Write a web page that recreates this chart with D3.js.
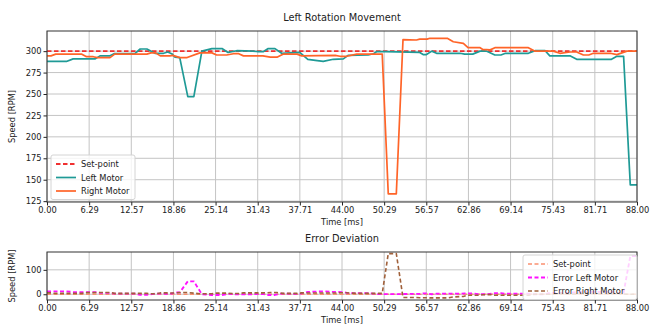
<!DOCTYPE html>
<html>
<head>
<meta charset="utf-8">
<script src="https://cdn.jsdelivr.net/npm/d3@7"></script>
<style>
  body { margin: 0; background: #fff; }
  svg { display: block; font-family: "DejaVu Sans", sans-serif; }
</style>
</head>
<body>
<div id="chart"></div>
<script>
// values (time in ms, speed in RPM)
const setPoint = 300;
const timeMax = 88;

const leftTime = [0, 2.9, 3.9, 7.2, 7.9, 9.4, 10.0, 13.1, 13.9, 14.9, 16.1, 17.4, 18.0, 18.6, 19.1, 19.8,
  21.0, 21.9, 23.1, 24.6, 26.1, 27.0, 28.3, 30.7, 31.5, 32.3, 33.0, 34.0, 35.0, 37.7, 38.9, 40.3,
  41.2, 42.7, 44.2, 44.9, 47.9, 48.7, 49.2, 50.5, 55.6, 56.1, 56.6, 57.4, 58.1, 61.6, 62.3, 63.5,
  64.6, 65.6, 66.8, 67.7, 68.4, 71.8, 72.8, 74.3, 75.0, 78.0, 79.0, 84.2, 85.0, 86.0, 87.0, 88.0];
const leftSpeed = [288, 288, 291, 291, 294.5, 294.5, 297, 297, 302.5, 302.5, 297.5, 297.5, 299, 297, 293, 292.5,
  247, 247, 300, 303, 303, 298.5, 300.5, 300, 299.5, 299.5, 303, 303, 297.5, 298.5, 290.5, 289,
  288, 290.5, 291, 295, 295.5, 297, 299.5, 299.5, 298.5, 296, 296, 300, 297.5, 297.5, 296.5, 296.5,
  300, 300, 295.5, 295.5, 297.5, 297.5, 300.5, 300.5, 294.5, 294.5, 290.5, 290.5, 294, 294, 144, 144];

const rightTime = [0, 0.6, 1.3, 5.2, 5.9, 6.9, 7.5, 9.4, 10.1, 14.9, 15.5, 16.2, 16.9, 18.3, 18.8, 19.8,
  20.9, 22.8, 24.6, 25.3, 26.8, 27.8, 28.6, 29.3, 32.2, 33.3, 34.3, 35.2, 37.3, 38.0, 43.0, 43.7,
  44.7, 46.2, 50.0, 50.9, 52.1, 53.1, 55.1, 55.6, 56.7, 57.1, 59.7, 60.6, 62.1, 62.8, 64.6, 65.0,
  66.1, 66.8, 71.8, 72.8, 75.5, 76.5, 78.0, 79.0, 80.0, 80.8, 81.5, 84.0, 85.0, 86.5, 88.0];
const rightSpeed = [294.5, 294.5, 296.5, 296.5, 293.5, 293.5, 292.5, 292.5, 296.5, 296.5, 298, 298, 294.5, 294.5, 295, 292.5,
  292.5, 298, 298, 295.5, 295.5, 297, 297, 294.5, 294.5, 293, 293, 296.5, 296.5, 294.5, 295, 294,
  294, 296.5, 296.5, 133.5, 133.5, 313.5, 313, 314, 314, 315, 315, 311, 309, 304, 304, 302,
  301.5, 304, 304, 300, 300, 297.5, 299, 299, 295.5, 295.5, 297.5, 297.5, 296, 300, 300];

const xTicks = d3.range(15).map(i => i * timeMax / 14);
const speedTicks = [125, 150, 175, 200, 225, 250, 275, 300];
const errorTicks = [0, 100];

const leftMotor = leftTime.map((t, i) => [t, leftSpeed[i]]);
const rightMotor = rightTime.map((t, i) => [t, rightSpeed[i]]);
const leftError = leftTime.map((t, i) => [t, setPoint - leftSpeed[i]]);
const rightError = rightTime.map((t, i) => [t, setPoint - rightSpeed[i]]);

const width = 650, height = 329;
const left = 47, right = 637;

const svg = d3.select("#chart").append("svg")
  .attr("width", width)
  .attr("height", height);

const x = d3.scaleLinear().domain([0, timeMax]).range([left, right]);

const panel = (id, top, bottom, yDomain, yTicks, title, series) => {
  const y = d3.scaleLinear().domain(yDomain).range([bottom, top]);
  const g = svg.append("g").attr("class", id);

  g.append("clipPath").attr("id", "clip-" + id)
    .append("rect")
    .attr("x", left).attr("y", top)
    .attr("width", right - left).attr("height", bottom - top);

  // grid
  g.append("g")
    .selectAll("line")
    .data(xTicks)
    .join("line")
    .attr("x1", d => x(d)).attr("x2", d => x(d))
    .attr("y1", top).attr("y2", bottom)
    .attr("stroke", "#c4c4c4").attr("stroke-width", 1);
  g.append("g")
    .selectAll("line")
    .data(yTicks)
    .join("line")
    .attr("x1", left).attr("x2", right)
    .attr("y1", d => y(d)).attr("y2", d => y(d))
    .attr("stroke", "#c4c4c4").attr("stroke-width", 1);

  const line = d3.line().x(d => x(d[0])).y(d => y(d[1]));
  g.append("g")
    .attr("clip-path", `url(#clip-${id})`)
    .selectAll("path")
    .data(series)
    .join("path")
    .attr("d", d => line(d.values))
    .attr("fill", "none")
    .attr("stroke", d => d.colour)
    .attr("stroke-width", d => d.width)
    .attr("stroke-dasharray", d => d.dash)
    .attr("stroke-linejoin", "round");

  // axes
  const xAxis = g.append("g")
    .attr("transform", `translate(0,${bottom})`)
    .call(d3.axisBottom(x).tickValues(xTicks).tickFormat(d3.format(".2f")).tickSize(3.5).tickPadding(2));
  const yAxis = g.append("g")
    .attr("transform", `translate(${left},0)`)
    .call(d3.axisLeft(y).tickValues(yTicks).tickSize(3.5).tickPadding(2));
  [xAxis, yAxis].forEach(a => {
    a.select(".domain").remove();
    a.selectAll("text").attr("font-size", 8.3).attr("fill", "#222").attr("font-family", "DejaVu Sans");
    a.selectAll("line").attr("stroke", "#222");
  });

  g.append("rect")
    .attr("x", left).attr("y", top)
    .attr("width", right - left).attr("height", bottom - top)
    .attr("fill", "none").attr("stroke", "#333").attr("stroke-width", 1);

  g.append("text")
    .attr("x", (left + right) / 2).attr("y", top - 10)
    .attr("text-anchor", "middle").attr("font-size", 9.8).attr("fill", "#222")
    .text(title);
  g.append("text")
    .attr("x", (left + right) / 2).attr("y", bottom + 23)
    .attr("text-anchor", "middle").attr("font-size", 8.3).attr("fill", "#222")
    .text("Time [ms]");
  g.append("text")
    .attr("transform", `translate(15,${(top + bottom) / 2}) rotate(-90)`)
    .attr("text-anchor", "middle").attr("font-size", 8.3).attr("fill", "#222")
    .text("Speed [RPM]");

  return g;
};

const legend = (g, lx, ly, w, series) => {
  const lg = g.append("g").attr("transform", `translate(${lx},${ly})`);
  lg.append("rect")
    .attr("width", w).attr("height", series.length * 13.5 + 4)
    .attr("rx", 2)
    .attr("fill", "#fff").attr("fill-opacity", 0.8)
    .attr("stroke", "#d4d4d4");
  const rows = lg.selectAll("g").data(series).join("g")
    .attr("transform", (d, i) => `translate(5,${9 + i * 13.5})`);
  rows.append("line")
    .attr("x1", 0).attr("x2", 20)
    .attr("stroke", d => d.colour)
    .attr("stroke-width", d => d.width)
    .attr("stroke-dasharray", d => d.dash);
  rows.append("text")
    .attr("x", 25).attr("y", 3)
    .attr("font-size", 8.3).attr("fill", "#222")
    .text(d => d.name);
};

const topSeries = [
  { name: "Set-point", values: [[0, setPoint], [timeMax, setPoint]], colour: "#f03030", width: 1.8, dash: "4.5,2.5" },
  { name: "Left Motor", values: leftMotor, colour: "#1f9a96", width: 1.7, dash: null },
  { name: "Right Motor", values: rightMotor, colour: "#ff6428", width: 1.7, dash: null }
];
const bottomSeries = [
  { name: "Set-point", values: [[0, 0], [timeMax, 0]], colour: "#fa9070", width: 1.6, dash: "4,2.5" },
  { name: "Error Left Motor", values: leftError, colour: "#ff10ff", width: 1.8, dash: "4,2.5" },
  { name: "Error Right Motor", values: rightError, colour: "#a0603a", width: 1.6, dash: "4,2.5" }
];

const topPanel = panel("speed", 31, 202, [124, 323.5], speedTicks, "Left Rotation Movement", topSeries);
legend(topPanel, 51, 155, 84, topSeries);

const bottomPanel = panel("error", 252, 300, [-23.5, 173], errorTicks, "Error Deviation", bottomSeries);
legend(bottomPanel, 523, 255, 114, bottomSeries);
</script>
</body>
</html>
